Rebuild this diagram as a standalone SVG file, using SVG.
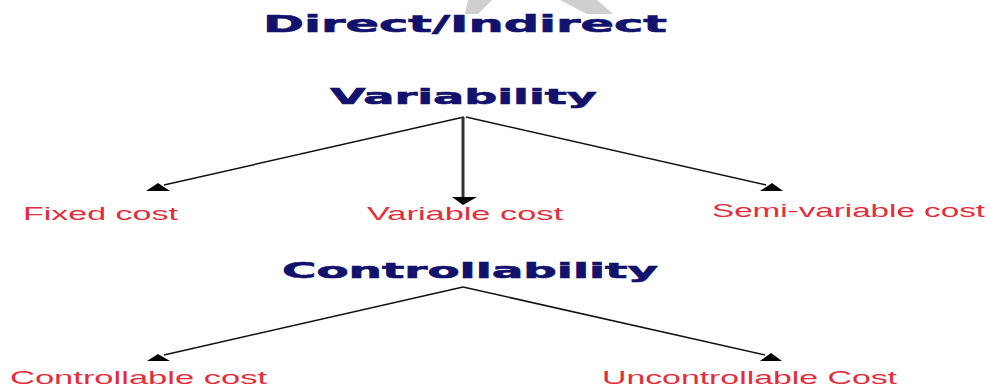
<svg xmlns="http://www.w3.org/2000/svg" width="990" height="387" viewBox="0 0 990 387">
<style>
.h{font-family:"DejaVu Sans",Verdana,sans-serif;font-weight:bold;fill:#12126c;stroke:#12126c;stroke-width:0.6}
.l{font-family:"Liberation Sans",Arial,sans-serif;font-size:18.5px;fill:#e42d3c}
.ln{stroke:#111;stroke-width:1.5;fill:none}
.ah{fill:#000}
.wm{fill:#cfcfcf}
</style>
<rect width="990" height="387" fill="#fff"/>
<g id="watermark">
<polygon class="wm" points="468,0 492,0 478,14 465,14"/>
<polygon class="wm" points="560,0 597,0 613,14 587,14"/>
</g>
<g id="connectors">
<line class="ln" x1="464" y1="117" x2="164" y2="185"/>
<polygon class="ah" points="146,191 158,183 170,191"/>
<line x1="463" y1="117" x2="463" y2="198" stroke="#333" stroke-width="3"/>
<polygon class="ah" points="452,197 477,197 463,205"/>
<line class="ln" x1="466" y1="117" x2="766" y2="185"/>
<polygon class="ah" points="760,191 772,183 783,191"/>
<line class="ln" x1="463" y1="287" x2="164" y2="355"/>
<polygon class="ah" points="147,361 158,354 170,361"/>
<line class="ln" x1="463" y1="287" x2="765" y2="355"/>
<polygon class="ah" points="760,361 771,353 782,361"/>
</g>
<g id="n-direct"><text class="h" x="263" y="32" font-size="23" textLength="404" lengthAdjust="spacingAndGlyphs">Direct/Indirect</text></g>
<g id="n-variability"><text class="h" x="330" y="103.5" font-size="21.5" textLength="267" lengthAdjust="spacingAndGlyphs">Variability</text></g>
<g id="n-fixed"><text class="l" x="23" y="220" textLength="155" lengthAdjust="spacingAndGlyphs">Fixed cost</text></g>
<g id="n-variable"><text class="l" x="367" y="220" textLength="196" lengthAdjust="spacingAndGlyphs">Variable cost</text></g>
<g id="n-semi"><text class="l" x="712" y="217" textLength="273" lengthAdjust="spacingAndGlyphs">Semi-variable cost</text></g>
<g id="n-controllability"><text class="h" x="282" y="277.5" font-size="21" textLength="376" lengthAdjust="spacingAndGlyphs">Controllability</text></g>
<g id="n-controllable"><text class="l" x="10" y="384" textLength="257" lengthAdjust="spacingAndGlyphs">Controllable cost</text></g>
<g id="n-uncontrollable"><text class="l" x="602" y="384" textLength="295" lengthAdjust="spacingAndGlyphs">Uncontrollable Cost</text></g>
</svg>
